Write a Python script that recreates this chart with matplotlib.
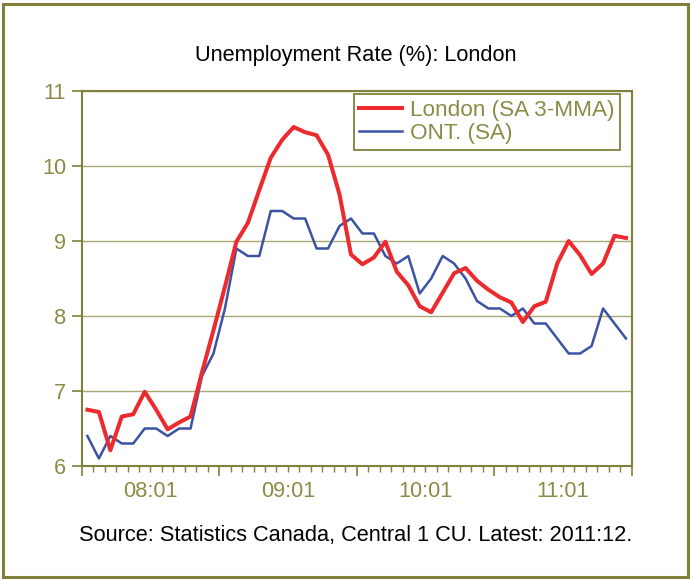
import numpy as np
import matplotlib.pyplot as plt
from matplotlib.patches import Rectangle

plt.rcParams['font.family'] = ['Liberation Sans', 'DejaVu Sans']

# monthly data, 2008:01 to 2011:12
london = [6.75, 6.72, 6.21, 6.66, 6.69, 6.99, 6.75, 6.49, 6.58, 6.66, 7.25, 7.81,
          8.39, 8.99, 9.24, 9.68, 10.11, 10.35, 10.52, 10.45, 10.41, 10.15, 9.62, 8.82,
          8.69, 8.78, 8.99, 8.59, 8.41, 8.13, 8.05, 8.31, 8.57, 8.64, 8.47, 8.35,
          8.25, 8.18, 7.92, 8.13, 8.19, 8.70, 9.00, 8.81, 8.56, 8.70, 9.07, 9.04]
ontario = [6.4, 6.1, 6.4, 6.3, 6.3, 6.5, 6.5, 6.4, 6.5, 6.5, 7.2, 7.5,
           8.1, 8.9, 8.8, 8.8, 9.4, 9.4, 9.3, 9.3, 8.9, 8.9, 9.2, 9.3,
           9.1, 9.1, 8.8, 8.7, 8.8, 8.3, 8.5, 8.8, 8.7, 8.5, 8.2, 8.1,
           8.1, 8.0, 8.1, 7.9, 7.9, 7.7, 7.5, 7.5, 7.6, 8.1, 7.9, 7.7]
year_labels = ['08:01', '09:01', '10:01', '11:01']

olive = '#80803C'
olive_txt = '#8B8B47'
grid_c = '#A8A872'
fs = 15.7

fig = plt.figure(figsize=(6.91, 5.80), dpi=100)
ax = fig.add_axes([81.7/691, 1-466/580, 550/691, 375/580])

x = np.arange(len(london))
ax.plot(x, london, color='#ED2B2F', lw=2.9, label='London (SA 3-MMA)', zorder=3)
ax.plot(x, ontario, color='#3A53A4', lw=1.8, label='ONT. (SA)', zorder=2)

ax.set_xlim(-0.5, len(london) - 0.5)
ax.set_ylim(6, 11)
ax.set_yticks([6, 7, 8, 9, 10, 11])
ax.yaxis.grid(True, color=grid_c, lw=1.0)
ax.set_axisbelow(True)

ax.set_xticks(np.arange(-0.5, len(london), 12))
ax.set_xticklabels([])
ax.set_xticks(np.arange(-0.5, len(london), 1), minor=True)
ax.tick_params(axis='x', which='major', length=7.2, width=1.2, color=olive, direction='out')
ax.tick_params(axis='x', which='minor', length=4.3, width=1.0, color=olive, direction='out')
ax.tick_params(axis='y', which='major', length=7.2, width=1.2, color=olive, pad=4,
               labelsize=fs, labelcolor=olive_txt)

for k, lab in enumerate(year_labels):
    ax.text(5.5 + 12 * k, -0.068, lab, transform=ax.get_xaxis_transform(),
            ha='center', va='center', fontsize=fs, color=olive_txt)

for s in ax.spines.values():
    s.set_color(olive)
    s.set_linewidth(1.5)

leg = ax.legend(loc='upper right', bbox_to_anchor=(0.9787, 0.992), borderaxespad=0,
                fancybox=False, framealpha=1, edgecolor=olive, fontsize=16.2,
                handlelength=1.9, handletextpad=0.35, labelspacing=0.12,
                borderpad=0.25)
leg.get_frame().set_linewidth(1.3)
for t in leg.get_texts():
    t.set_color(olive_txt)

fig.text(356/691, 1-55/580, 'Unemployment Rate (%): London', ha='center', va='center',
         fontsize=fs, color='black')
fig.text(356/691, 1-535/580, 'Source: Statistics Canada, Central 1 CU. Latest: 2011:12.',
         ha='center', va='center', fontsize=fs, color='black')

fig.patches.append(Rectangle((3/691, 3/580), 685/691, 573/580, transform=fig.transFigure,
                             fill=False, edgecolor=olive, lw=2.2))

fig.savefig('out.png', dpi=100)
